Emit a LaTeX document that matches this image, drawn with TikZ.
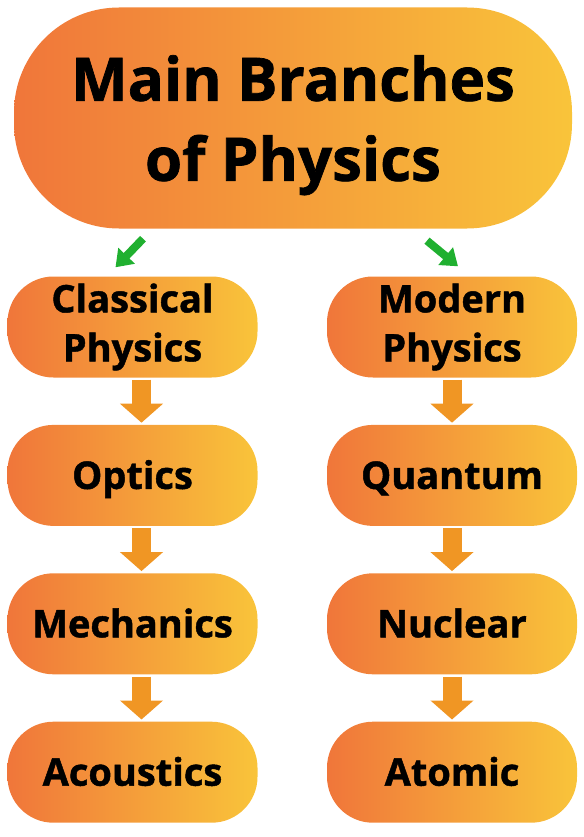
\documentclass[tikz,border=0pt]{standalone}
\usepackage{fontspec}
\setmainfont{Open Sans}[BoldFeatures={FakeBold=1.2}]
\usetikzlibrary{positioning,calc,arrows.meta}
\definecolor{brleft}{RGB}{240,118,58}
\definecolor{brmid}{RGB}{245,155,54}
\definecolor{brright}{RGB}{249,196,58}
\definecolor{brgreen}{RGB}{32,176,48}
\definecolor{brorange}{RGB}{240,150,36}
\tikzset{
  branch/.style={rectangle,rounded corners=46pt,inner sep=0pt,
    minimum width=250pt,minimum height=101pt,align=center,
    left color=brleft,middle color=brmid,right color=brright,
    font=\fontsize{38}{49}\selectfont\bfseries},
  oneline/.style={text height=27pt,text depth=0pt},
  mainbox/.style={branch,rounded corners=105pt,minimum width=558pt,
    minimum height=221pt,text depth=0pt,
    font=\fontsize{60}{80}\selectfont\bfseries},
  downarr/.style={draw=brorange,line width=19pt,
    -{Triangle[width=42pt,length=19pt]},shorten <=2pt,shorten >=2pt},
  greenarr/.style={draw=brgreen,line width=8pt,
    -{Triangle[width=22pt,length=16pt]}}
}

\begin{document}
\begin{tikzpicture}[x=1pt,y=1pt,node distance=47pt]
\useasboundingbox (0,0) rectangle (583,-837);
\node[mainbox] (main) at (293,-118) {Main Branches\\of Physics};
% classical column
\node[branch] (cls) at (132.5,-327) {Classical\\Physics};
\node[branch,oneline,below=of cls] (opt) {Optics};
\node[branch,oneline,below=of opt] (mech) {Mechanics};
\node[branch,oneline,below=of mech] (acou) {Acoustics};
% modern column
\node[branch] (mod) at (452,-327) {Modern\\Physics};
\node[branch,oneline,below=of mod] (quan) {Quantum};
\node[branch,oneline,below=of quan] (nucl) {Nuclear};
\node[branch,oneline,below=of nucl] (atom) {Atomic};
\draw[greenarr] ([xshift=-150pt,yshift=-10pt]main.south) -- ([xshift=-17pt,yshift=9pt]cls.north);
\draw[greenarr] ([xshift=134pt,yshift=-12pt]main.south) -- ([xshift=6pt,yshift=10pt]mod.north);
\draw[downarr] ([xshift=9pt]cls.south) -- ([xshift=9pt]opt.north);
\draw[downarr] ([xshift=9pt]opt.south) -- ([xshift=9pt]mech.north);
\draw[downarr] ([xshift=9pt]mech.south) -- ([xshift=9pt]acou.north);
\draw[downarr] (mod) -- (quan);
\draw[downarr] (quan) -- (nucl);
\draw[downarr] (nucl) -- (atom);
\end{tikzpicture}
\end{document}
